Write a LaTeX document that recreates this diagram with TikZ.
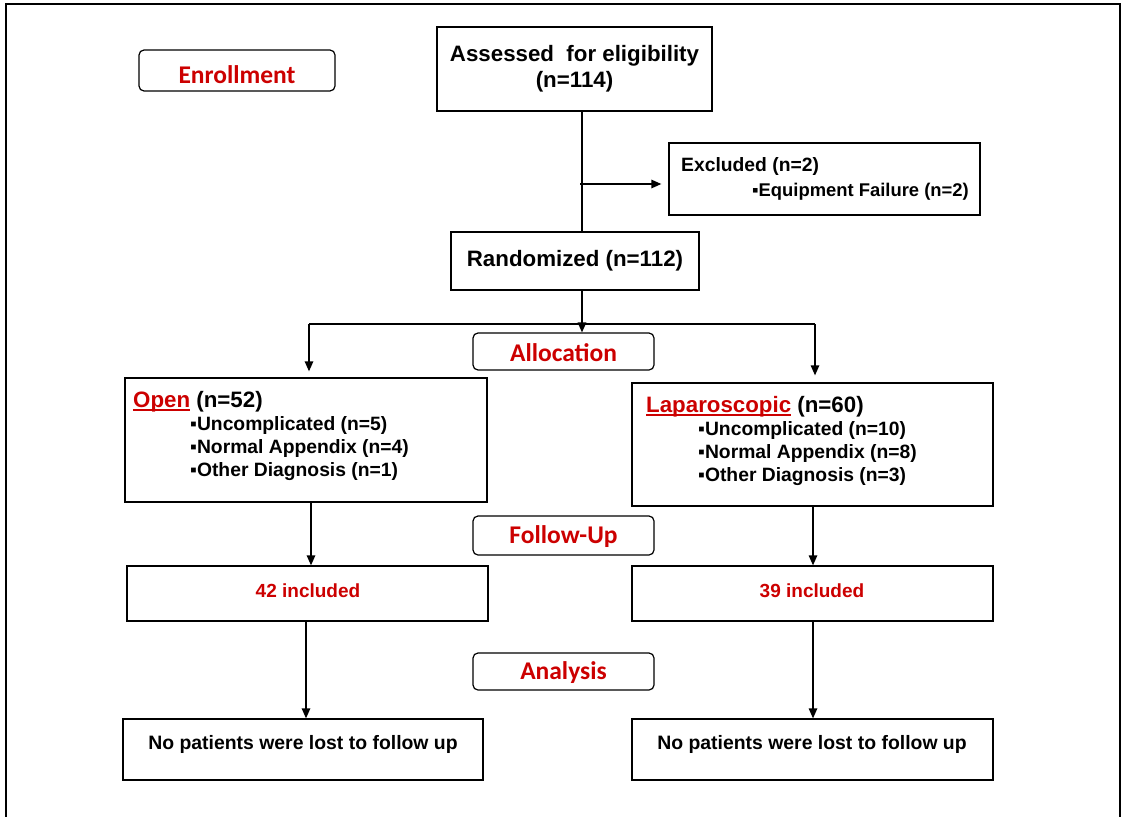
\documentclass[tikz,border=0pt]{standalone}
\usepackage{fontspec}
\setmainfont{Liberation Sans}
\newfontfamily\calfont{Carlito}
\usetikzlibrary{arrows.meta}
\definecolor{cred}{RGB}{204,0,0}
\newcommand\redul[1]{{\color{cred}\setbox0\hbox{#1}\rlap{\rule[-3pt]{\wd0}{1.6pt}}#1}}
\newcommand\lowertext[2]{\raisebox{-#1}[\height][\depth]{#2}}
\begin{document}
\begin{tikzpicture}[x=1pt,y=-1pt,
  box/.style={draw, line width=1.3pt, inner sep=0pt},
  phase/.style={draw, line width=1.2pt, rounded corners=5pt, inner sep=0pt,
    font=\calfont\bfseries\fontsize{25.5}{28}\selectfont, text=cred},
  big/.style={font=\bfseries\fontsize{22.3}{26}\selectfont},
  item/.style={font=\bfseries\fontsize{19.3}{22}\selectfont, anchor=west, inner sep=0pt},
  redtxt/.style={font=\bfseries\fontsize{19}{22}\selectfont, text=cred, inner sep=0pt},
  losttxt/.style={font=\bfseries\fontsize{19.4}{22}\selectfont, inner sep=0pt},
  conn/.style={line width=1.3pt},
  arr/.style={conn, -{Triangle[length=10pt,width=8.5pt]}}]
\useasboundingbox (0,0) rectangle (1123,816);
\draw[line width=2pt] (6,830) -- (6,4) -- (1120,4) -- (1120,830);

% phase labels
\node[phase, minimum width=196pt, minimum height=41pt] (enroll) at (237,70.5) {\lowertext{4pt}{Enrollment}};
\node[phase, minimum width=181pt, minimum height=37pt] (alloc) at (563.5,351.5) {\lowertext{1.5pt}{Allocation}};
\node[phase, minimum width=181pt, minimum height=39pt] (follow) at (563.5,535.5) {\lowertext{1.5pt}{Follow-Up}};
\node[phase, minimum width=181pt, minimum height=37pt] (anal) at (563.5,671.5) {\lowertext{1.5pt}{Analysis}};

% main boxes
\node[box, big, align=center, minimum width=275pt, minimum height=84pt] (assess) at (574.5,69)
  {Assessed\ \ for eligibility\\(n=114)};
\node[box, minimum width=311pt, minimum height=72pt] (excl) at (824.5,179) {};
\node[item] (excla) at (681,167) {Excluded (n=2)};
\node[item, font=\bfseries\fontsize{18.4}{22}\selectfont] (exclb) at (752,191.5) {▪Equipment Failure (n=2)};
\node[box, big, minimum width=248pt, minimum height=58pt] (rand) at (575,261) {Randomized (n=112)};

\node[box, minimum width=362pt, minimum height=124pt] (open) at (306,440) {};
\node[item, big, inner sep=0pt] (opent) at (133,402) {\redul{Open} (n=52)};
\node[item] (opena) at (190,426) {▪Uncomplicated (n=5)};
\node[item] (openb) at (190,449) {▪Normal Appendix (n=4)};
\node[item] (openc) at (190,472) {▪Other Diagnosis (n=1)};

\node[box, minimum width=361pt, minimum height=123pt] (lap) at (812.5,444.5) {};
\node[item, big, inner sep=0pt] (lapt) at (646,407) {\redul{Laparoscopic} (n=60)};
\node[item] (lapa) at (698,431) {▪Uncomplicated (n=10)};
\node[item] (lapb) at (698,454) {▪Normal Appendix (n=8)};
\node[item] (lapc) at (698,477) {▪Other Diagnosis (n=3)};

\node[box, minimum width=361pt, minimum height=55pt] (inca) at (307.5,593.5) {};
\node[redtxt] (incat) at (308,591) {42 included};
\node[box, minimum width=361pt, minimum height=55pt] (incb) at (812.5,593.5) {};
\node[redtxt] (incbt) at (812,591) {39 included};

\node[box, minimum width=360pt, minimum height=61pt] (losta) at (303,749.5) {};
\node[losttxt] (lostat) at (303,744.5) {No patients were lost to follow up};
\node[box, minimum width=361pt, minimum height=61pt] (lostb) at (812.5,749.5) {};
\node[losttxt] (lostbt) at (812,744.5) {No patients were lost to follow up};

% connectors
\coordinate (tx) at (582,0);
\coordinate (L) at (309,324);
\coordinate (R) at (815,324);
\coordinate (c1) at (311,0);
\coordinate (c2) at (813,0);
\coordinate (c3) at (306,0);

\draw[conn] (assess.south -| tx) -- (rand.north -| tx);
\draw[arr, shorten >=7pt] ([xshift=-2pt,yshift=-5pt]tx |- excl.west) -- ([yshift=-5pt]excl.west);
\draw[arr] (rand.south -| tx) -- (alloc.north -| tx);
\draw[conn] (L) -- (R);
\draw[arr, shorten >=6pt] (L) -- (L |- open.north);
\draw[arr, shorten >=7pt] (R) -- (R |- lap.north);
\draw[arr] (open.south -| c1) -- (inca.north -| c1);
\draw[arr] (lap.south -| c2) -- (incb.north -| c2);
\draw[arr] (inca.south -| c3) -- (losta.north -| c3);
\draw[arr] (incb.south -| c2) -- (lostb.north -| c2);
\end{tikzpicture}
\end{document}
